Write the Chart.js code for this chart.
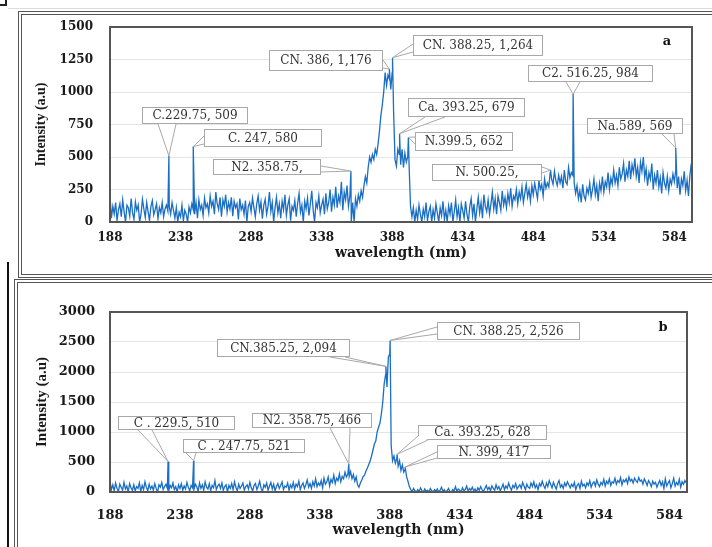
<!DOCTYPE html>
<html>
<head>
<meta charset="utf-8">
<script src="https://cdn.jsdelivr.net/npm/chart.js@4.4.0/dist/chart.umd.min.js"></script>
<style>
html, body { margin: 0; padding: 0; background: #fff; }
#page { position: relative; width: 712px; height: 547px; overflow: hidden; background: #fff; }
.panel { position: absolute; border: 4px double #555; }
canvas { position: absolute; left: 0; }
</style>
</head>
<body>
<div id="page">
    <div style="position:absolute;left:0;top:-2px;width:5px;height:6px;border-right:2px solid #222;border-bottom:2px solid #222"></div>
    <div style="position:absolute;left:8px;top:8px;width:720px;height:0;border-top:1px solid #ddd"></div>
    <div class="panel" style="left:18px;top:11px;width:720px;height:259px"></div>
    <div class="panel" style="left:14px;top:279px;width:720px;height:300px"></div>
    <div style="position:absolute;left:7px;top:262px;width:0;height:300px;border-left:2px solid #111"></div>
    <canvas id="chartA" width="712" height="280" style="top:0;width:712px;height:280px"></canvas>
    <canvas id="chartB" width="712" height="267" style="top:280px;width:712px;height:267px"></canvas>
</div>
<script>
/* ---------- x grid (nm) ---------- */
const wavelength = [
    188,189,190,191,192,193,194,195,196,197, 198,199,200,201,202,203,204,205,206,207,
    208,209,210,211,212,213,214,215,216,217, 218,219,220,221,222,223,224,225,226,227,
    228,229,230,231,232,233,234,235,236,237, 238,239,240,241,242,243,244,245,246,247,
    248,249,250,251,252,253,254,255,256,257, 258,259,260,261,262,263,264,265,266,267,
    268,269,270,271,272,273,274,275,276,277, 278,279,280,281,282,283,284,285,286,287,
    288,289,290,291,292,293,294,295,296,297, 298,299,300,301,302,303,304,305,306,307,
    308,309,310,311,312,313,314,315,316,317, 318,319,320,321,322,323,324,325,326,327,
    328,329,330,331,332,333,334,335,336,337, 338,339,340,341,342,343,344,345,346,347,
    348,349,350,351,352,353,354,355,356,357, 358,359,360,361,362,363,364,365,366,367,
    368,369,370,371,372,373,374,375,376,377, 378,379,380,381,382,383,384,385,386,387,
    388,389,390,391,392,393,394,395,396,397, 398,399,400,401,402,403,404,405,406,407,
    408,409,410,411,412,413,414,415,416,417, 418,419,420,421,422,423,424,425,426,427,
    428,429,430,431,432,433,434,435,436,437, 438,439,440,441,442,443,444,445,446,447,
    448,449,450,451,452,453,454,455,456,457, 458,459,460,461,462,463,464,465,466,467,
    468,469,470,471,472,473,474,475,476,477, 478,479,480,481,482,483,484,485,486,487,
    488,489,490,491,492,493,494,495,496,497, 498,499,500,501,502,503,504,505,506,507,
    508,509,510,511,512,513,514,515,516,517, 518,519,520,521,522,523,524,525,526,527,
    528,529,530,531,532,533,534,535,536,537, 538,539,540,541,542,543,544,545,546,547,
    548,549,550,551,552,553,554,555,556,557, 558,559,560,561,562,563,564,565,566,567,
    568,569,570,571,572,573,574,575,576,577, 578,579,580,581,582,583,584,585,586,587,
    588,589,590,591,592,593,594,595,596,597, 598,599,600
];

/* ---------- spectrum a ---------- */
const intensityA = [
    205,30,120,60,150,10,95,140,40,170,        // 188
    80,0,130,110,45,180,70,20,155,90,          // 198
    130,0,60,175,100,35,150,80,10,120,         // 208
    165,55,95,140,25,110,70,150,40,100,        // 218
    130,85,120,60,150,90,30,110,0,75,          // 228
    40,130,10,90,60,0,115,70,140,95,           // 238
    60,150,30,170,95,130,50,185,110,140,       // 248
    70,200,120,160,60,230,140,95,190,40,       // 258
    170,120,210,75,150,100,190,45,160,110,     // 268
    140,20,180,95,130,60,165,0,120,150,        // 278
    80,185,110,40,140,200,90,155,25,130,       // 288
    175,60,120,230,80,150,0,110,190,70,        // 298
    140,30,160,95,210,50,130,180,10,120,       // 308
    90,165,40,145,220,75,130,0,160,100,        // 318
    185,50,140,240,90,0,150,110,200,70,        // 328
    130,175,60,220,100,150,250,80,190,130,     // 338
    270,110,200,150,310,90,230,170,280,120,    // 348
    200,0,150,0,180,120,210,160,240,190,       // 358
    280,350,300,420,500,460,520,480,560,520,   // 368
    600,700,820,900,1000,1150,1050,1130,1100,1020, // 378
    1150,850,480,430,560,520,440,560,420,530,  // 388
    460,500,430,120,40,110,0,90,20,130,        // 398
    60,0,100,40,150,10,80,120,0,95,            // 408
    30,140,70,0,110,50,160,20,90,0,            // 418
    125,60,150,0,80,170,40,110,0,140,          // 428
    90,30,160,60,0,120,180,50,140,0,           // 438
    100,190,70,150,30,210,120,80,170,60,       // 448
    140,230,100,180,60,200,150,90,240,130,     // 458
    190,110,220,150,260,120,200,170,250,140,   // 468
    230,180,270,150,220,290,190,250,160,280,   // 478
    210,300,240,180,320,250,290,200,330,260,   // 488
    300,270,380,330,290,390,320,280,360,300,   // 498
    350,260,400,310,290,420,340,380,360,300,   // 508
    220,280,180,240,150,290,200,170,260,220,   // 518
    300,190,250,330,210,280,160,300,240,350,   // 528
    230,310,270,380,250,340,290,400,300,360,   // 538
    280,420,330,370,450,310,400,350,470,330,   // 548
    440,380,490,350,420,300,460,390,500,340,   // 558
    410,280,380,330,450,250,360,300,400,270,   // 568
    340,220,380,300,260,350,240,330,290,370,   // 578
    310,400,260,350,210,330,280,390,240,320,   // 588
    200,360,450                                // 598
];

/* ---------- spectrum b ---------- */
const intensityB = [
    180,40,120,20,150,60,10,130,80,30,         // 188
    160,50,100,0,140,70,30,120,20,90,          // 198
    60,150,10,110,40,170,80,20,130,50,         // 208
    100,30,140,60,0,120,80,160,40,90,          // 218
    130,60,20,110,70,150,40,90,0,120,          // 228
    60,140,30,100,50,160,80,20,110,70,         // 238
    40,130,90,10,150,60,120,30,170,80,         // 248
    50,140,20,110,70,190,40,100,130,60,        // 258
    150,30,90,120,0,110,60,140,40,170,         // 268
    80,20,130,60,100,150,30,90,120,50,         // 278
    160,70,20,110,140,40,100,180,60,10,        // 288
    120,80,150,30,100,160,50,130,20,90,        // 298
    140,60,110,170,40,100,80,150,30,120,       // 308
    70,160,50,130,90,180,40,110,150,60,        // 318
    120,200,80,140,60,170,100,220,90,150,      // 328
    110,190,70,230,130,170,250,100,210,160,    // 338
    280,140,230,190,300,170,260,220,330,250,   // 348
    300,260,340,220,290,180,250,120,80,150,    // 358
    200,260,280,350,400,460,520,600,700,800,   // 368
    850,1000,1080,1150,1300,1500,1800,1950,1750,2250, // 378
    2300,780,520,600,480,560,430,520,360,450,  // 388
    330,380,260,180,90,40,10,60,20,0,          // 398
    40,10,70,20,0,50,10,30,0,60,               // 408
    20,0,40,10,50,0,30,80,10,40,               // 418
    0,20,60,10,0,40,20,90,10,50,               // 428
    30,0,70,20,40,100,10,60,30,80,             // 438
    20,50,0,70,30,90,40,10,60,110,             // 448
    40,80,20,100,60,30,120,50,90,20,           // 458
    70,130,40,100,60,150,80,30,110,70,         // 468
    140,50,90,120,60,160,100,40,130,80,        // 478
    60,150,90,170,70,120,40,140,100,180,       // 488
    110,60,150,90,190,130,70,160,100,50,       // 498
    140,190,80,120,60,150,100,170,120,70,      // 508
    130,90,160,40,110,140,60,180,100,130,      // 518
    70,150,110,190,80,140,170,100,200,130,     // 528
    90,160,120,210,100,180,140,220,110,170,    // 538
    150,230,130,190,160,240,120,200,170,220,   // 548
    140,250,180,210,150,230,190,160,240,180,   // 558
    200,130,220,170,110,190,150,90,180,130,    // 568
    160,80,140,190,110,170,60,220,100,150,     // 578
    190,70,140,230,100,160,120,210,80,170,     // 588
    130,190,150                                // 598
];

/* ---------- labelled peaks ---------- */
const peakWlA = [229.75, 247, 358.75, 386, 388.25, 393.25, 399.5, 500.25, 516.25, 589];
const peakValA = [509, 580, 392, 1176, 1264, 679, 652, 400, 984, 569];
const peakTextA = ["C.229.75, 509", "C. 247, 580", "N2. 358.75,", "CN. 386, 1,176", "CN. 388.25, 1,264",
    "Ca. 393.25, 679", "N.399.5, 652", "N. 500.25,", "C2. 516.25, 984", "Na.589, 569"];

const peakWlB = [229.5, 247.75, 358.75, 385.25, 388.25, 393.25, 399];
const peakValB = [510, 521, 466, 2094, 2526, 628, 417];
const peakTextB = ["C . 229.5, 510", "C . 247.75, 521", "N2. 358.75, 466", "CN.385.25, 2,094",
    "CN. 388.25, 2,526", "Ca. 393.25, 628", "N. 399, 417"];

/* ---------- axis ticks ---------- */
const tickPos = [188, 238, 288, 338, 388, 438, 488, 538, 588];
const tickLabels = ["188", "238", "288", "338", "388", "434", "484", "534", "584"];

/* ---------- callout boxes (page px): box x,y,w,h + two base points of the pointer ---------- */
const boxesA = [
    [142, 107, 106, 17, 158, 124, 176, 124],
    [204, 129, 118, 18, 204, 136, 204, 144],
    [213, 159, 108, 16, 321, 166, 321, 172],
    [269, 50, 114, 21, 383, 60, 383, 68],
    [413, 35, 130, 21, 413, 44, 413, 52],
    [408, 98, 117, 19, 425, 117, 445, 117],
    [415, 132, 98, 19, 415, 137, 415, 144],
    [432, 164, 110, 17, 542, 167, 542, 173],
    [528, 65, 125, 17, 566, 82, 580, 82],
    [587, 118, 96, 16, 662, 134, 674, 134]
];
const boxesB = [
    [118, 416, 117, 14, 138, 430, 152, 430],
    [183, 439, 122, 14, 186, 453, 196, 453],
    [252, 413, 120, 15, 330, 428, 350, 428],
    [217, 339, 133, 18, 330, 357, 345, 357],
    [437, 322, 143, 18, 437, 327, 437, 334],
    [418, 425, 129, 15, 418, 436, 428, 440],
    [437, 445, 114, 14, 437, 452, 437, 458]
];

const lineColor = "#1a6ec4";

function buildPoints(base, wl, val) {
    const pts = wavelength.map((w, i) => ({ x: w, y: base[i] }));
    wl.forEach((w, i) => pts.push({ x: w, y: val[i] }));
    pts.sort((a, b) => a.x - b.x);
    return pts;
}

/* ---------- frame + callouts ---------- */
const calloutPlugin = {
    id: "callouts",
    afterDatasetsDraw(chart, args, opts) {
        const { ctx, chartArea: ca, scales: { x, y } } = chart;
        ctx.save();
        ctx.strokeStyle = "#555";
        ctx.lineWidth = 2;
        ctx.strokeRect(ca.left, ca.top, ca.width, ca.height);

        opts.wl.forEach((w, i) => {
            const b = opts.boxes[i];
            const oy = opts.offsetY;
            const bx = b[0], by = b[1] - oy, bw = b[2], bh = b[3];
            const tx = x.getPixelForValue(w), ty = y.getPixelForValue(opts.val[i]);

            ctx.fillStyle = "#fff";
            ctx.fillRect(bx, by, bw, bh);
            ctx.strokeStyle = "#a8a8a8";
            ctx.lineWidth = 1;
            ctx.strokeRect(bx + 0.5, by + 0.5, bw - 1, bh - 1);

            ctx.beginPath();
            ctx.moveTo(b[4], b[5] - oy);
            ctx.lineTo(tx, ty);
            ctx.lineTo(b[6], b[7] - oy);
            ctx.closePath();
            ctx.fill();
            ctx.beginPath();
            ctx.moveTo(b[4], b[5] - oy);
            ctx.lineTo(tx, ty);
            ctx.lineTo(b[6], b[7] - oy);
            ctx.stroke();

            let size = opts.fontSize;
            ctx.font = size + 'px "DejaVu Serif"';
            while (ctx.measureText(opts.text[i]).width > bw - 6 && size > 8) {
                size -= 0.5;
                ctx.font = size + 'px "DejaVu Serif"';
            }
            ctx.fillStyle = "#333";
            ctx.textAlign = "center";
            ctx.textBaseline = "middle";
            ctx.fillText(opts.text[i], bx + bw / 2, by + bh / 2 + 0.5);
        });

        ctx.font = 'bold 13px "DejaVu Serif"';
        ctx.fillStyle = "#111";
        ctx.textAlign = "center";
        ctx.textBaseline = "middle";
        ctx.fillText(opts.letter, opts.letterPos[0], opts.letterPos[1] - opts.offsetY);
        ctx.restore();
    }
};

function makeChart(id, cfg) {
    return new Chart(document.getElementById(id), {
        type: "line",
        data: {
            datasets: [{
                data: buildPoints(cfg.base, cfg.wl, cfg.val),
                borderColor: lineColor,
                borderWidth: 1.3,
                pointRadius: 0,
                tension: 0
            }]
        },
        plugins: [calloutPlugin],
        options: {
            responsive: false,
            animation: false,
            parsing: false,
            layout: { padding: { top: cfg.top, right: cfg.right, left: 0, bottom: 0 } },
            plugins: {
                legend: { display: false },
                tooltip: { enabled: false },
                callouts: {
                    wl: cfg.wl, val: cfg.val, text: cfg.text, boxes: cfg.boxes,
                    offsetY: cfg.offsetY, fontSize: cfg.calloutSize,
                    letter: cfg.letter, letterPos: cfg.letterPos
                }
            },
            scales: {
                x: {
                    type: "linear",
                    min: 188,
                    max: cfg.xMax,
                    afterBuildTicks: s => { s.ticks = tickPos.map(v => ({ value: v })); },
                    afterFit: s => { s.height = cfg.xHeight; },
                    grid: { display: false, drawTicks: false },
                    border: { display: false },
                    ticks: {
                        padding: cfg.xTickPad,
                        maxRotation: 0,
                        autoSkip: false,
                        color: "#1a1a1a",
                        font: { family: "DejaVu Serif", weight: "bold", size: cfg.tickSize },
                        callback: (v, i) => tickLabels[i]
                    },
                    title: {
                        display: true,
                        text: "wavelength (nm)",
                        color: "#1a1a1a",
                        font: { family: "DejaVu Serif", weight: "bold", size: cfg.xTitleSize },
                        padding: { top: 0, bottom: cfg.xTitlePad }
                    }
                },
                y: {
                    min: 0,
                    max: cfg.yMax,
                    afterFit: s => { s.width = 110; },
                    grid: { color: "#e4e4e4", drawTicks: false },
                    border: { display: false },
                    ticks: {
                        stepSize: cfg.yStep,
                        padding: cfg.yTickPad,
                        color: "#1a1a1a",
                        font: { family: "DejaVu Serif", weight: "bold", size: cfg.tickSize },
                        callback: v => String(v)
                    },
                    title: {
                        display: true,
                        text: "Intensity (a.u)",
                        color: "#1a1a1a",
                        font: { family: "Liberation Serif", weight: "bold", size: cfg.yTitleSize },
                        padding: { top: 33, bottom: 0 }
                    }
                }
            }
        }
    });
}

makeChart("chartA", {
    base: intensityA, wl: peakWlA, val: peakValA, text: peakTextA, boxes: boxesA,
    offsetY: 0, top: 27, right: 20, xMax: 600.5, xHeight: 58, yMax: 1500, yStep: 250,
    xTickPad: 9, xTitlePad: 18, xTitleSize: 14, yTickPad: 17, tickSize: 12, yTitleSize: 14,
    calloutSize: 12, letter: "a", letterPos: [667, 42]
});

makeChart("chartB", {
    base: intensityB, wl: peakWlB, val: peakValB, text: peakTextB, boxes: boxesB,
    offsetY: 280, top: 32, right: 25, xMax: 600.5, xHeight: 55, yMax: 3000, yStep: 500,
    xTickPad: 16, xTitlePad: 8, xTitleSize: 14, yTickPad: 15, tickSize: 13, yTitleSize: 15,
    calloutSize: 12, letter: "b", letterPos: [663, 328]
});
</script>
</body>
</html>
